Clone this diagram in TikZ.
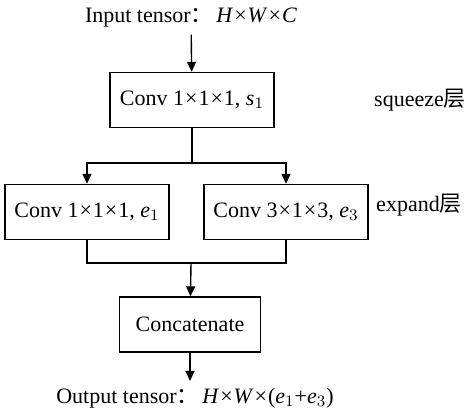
\documentclass[tikz,border=0pt]{standalone}
\usepackage{fontspec}
\setmainfont{Liberation Serif}
\newfontfamily\cjk{Noto Sans CJK SC}
\usetikzlibrary{arrows.meta}

\tikzset{
  layer/.style={draw, line width=0.7pt, minimum height=27.5pt, inner sep=0pt},
  flow/.style={line width=0.7pt},
}
\newcommand{\tm}{\kern0.5pt×\kern0.5pt}

\begin{document}
\begin{tikzpicture}[x=0.5pt, y=-0.5pt, >={Triangle[length=5pt,width=4.5pt]},
    font=\fontsize{11}{13}\selectfont]

        \useasboundingbox (0,0) rectangle (475,413);

        % Input and squeeze layer
        \node (in) at (191,18) {Input tensor{\cjk ：}\,\textit{H}\tm\textit{W}\tm\textit{C}};
        \node[layer, minimum width=82pt] (sq) at (192,100) {Conv 1\tm1\tm1, \textit{s}$_1$};
        \node (sqlbl) at (420,100) {squeeze{\cjk 层}};

        % Expand layer
        \node[layer, minimum width=82pt] (ex1) at (87,212) {Conv 1\tm1\tm1, \textit{e}$_1$};
        \node[layer, minimum width=82pt] (ex3) at (286,212) {Conv 3\tm1\tm3, \textit{e}$_3$};
        \node (exlbl) at (419,205) {expand{\cjk 层}};

        % Concatenate and output
        \node[layer, minimum width=70.5pt] (cat) at (190,324.5) {Concatenate};
        \node (out) at (195,398) {Output tensor{\cjk ：}\,\textit{H}\tm\textit{W}\tm(\textit{e}$_1$+\textit{e}$_3$)};

        \coordinate (split) at (192,163);
        \coordinate (merge) at (191,263);

        % Connectors
        \draw[flow, ->] (in) -- (sq);
        \draw[flow] (sq) -- (split);
        \draw[flow, ->] (split) -| (ex1);
        \draw[flow, ->] (split) -| (ex3);
        \draw[flow] (ex1.south) |- (merge) -| (ex3.south);
        \draw[flow, ->] (merge) -- (cat);
        \draw[flow, ->] (cat) -- (cat |- out.north);

    \end{tikzpicture}
\end{document}
